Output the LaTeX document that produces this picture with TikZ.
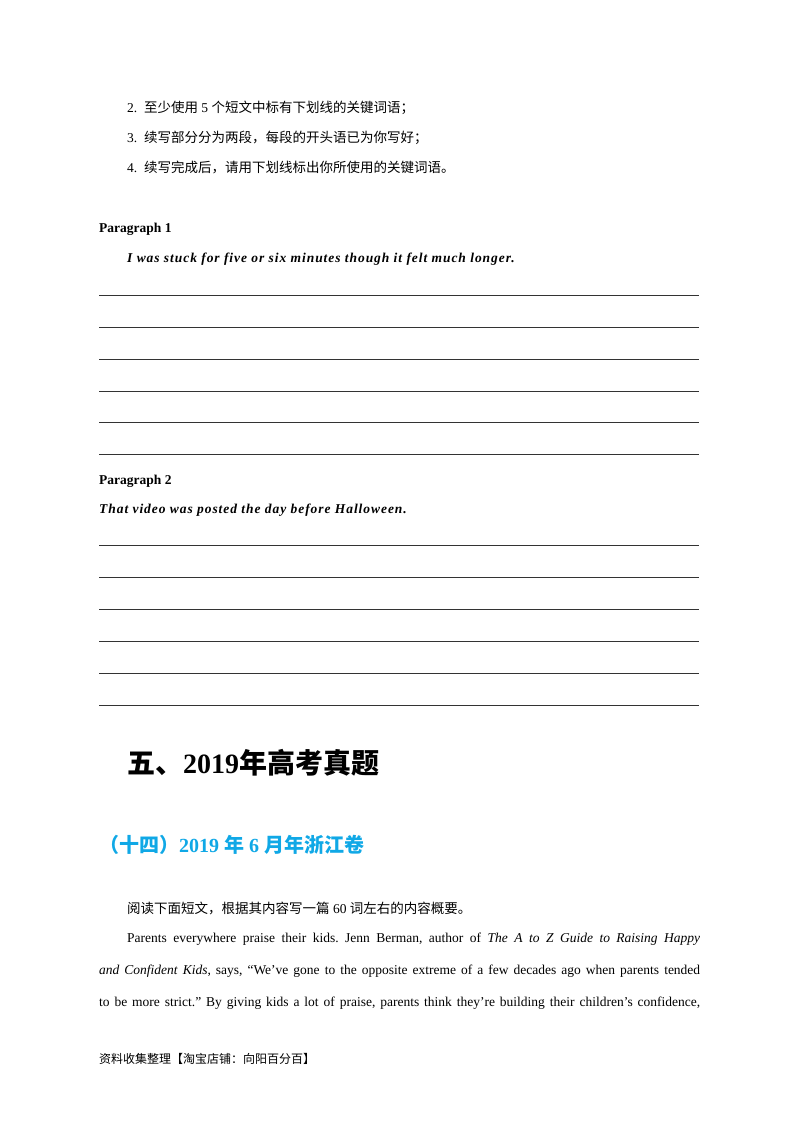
\documentclass[tikz,border=0pt]{standalone}
\usepackage{fontspec}
\setmainfont{Liberation Serif}
\newfontfamily\cjk{Noto Sans CJK SC}
\definecolor{hblue}{HTML}{10A8E6}
\frenchspacing
\begin{document}
\begin{tikzpicture}[x=1pt,y=-1pt,
  txt/.style={anchor=base west,inner sep=0pt,font=\fontsize{13.5}{16}\selectfont},
  rule/.style={line width=0.7pt,black!80}]
\useasboundingbox (0,0) rectangle (800,1132);
\node[txt] (l2) at (127,112) {2.\ \ {\cjk 至少使用} 5 {\cjk 个短文中标有下划线的关键词语；}};
\node[txt] (l3) at (127,142) {3.\ \ {\cjk 续写部分分为两段，每段的开头语已为你写好；}};
\node[txt] (l4) at (127,172) {4.\ \ {\cjk 续写完成后，请用下划线标出你所使用的关键词语。}};
\node[txt,font=\fontsize{13.5}{16}\selectfont\bfseries] (p1) at (99,232) {Paragraph 1};
\node[txt,font=\fontsize{13.5}{16}\selectfont\bfseries\itshape] (p1s) at (127,262) {\addfontfeature{LetterSpace=7}I was stuck for five or six minutes though it felt much longer.};
\foreach \y in {295,327,359,391,422,454} \draw[rule] (99,\y) -- (699,\y);
\node[txt,font=\fontsize{13.5}{16}\selectfont\bfseries] (p2) at (99,484) {Paragraph 2};
\node[txt,font=\fontsize{13.5}{16}\selectfont\bfseries\itshape] (p2s) at (99,513) {\addfontfeature{LetterSpace=7}That video was posted the day before Halloween.};
\foreach \y in {545,577,609,641,673,705} \draw[rule] (99,\y) -- (699,\y);
\node[txt,font=\fontsize{28}{32}\selectfont\bfseries] (h1) at (127,773) {{\cjk\bfseries 五、}2019{\cjk\bfseries 年高考真题}};
\node[txt,font=\fontsize{20}{24}\selectfont\bfseries,text=hblue] (h2) at (99,852) {{\cjk\bfseries （十四）}2019 {\cjk\bfseries 年} 6 {\cjk\bfseries 月年浙江卷}};
\node[txt] (r0) at (127,913) {{\cjk 阅读下面短文，根据其内容写一篇} 60 {\cjk 词左右的内容概要。}};
\node[txt] (r1) at (127,942) {\makebox[573pt][s]{Parents everywhere praise their kids. Jenn Berman, author of \textit{The A to Z Guide to Raising Happy}}};
\node[txt] (r2) at (99,974) {\makebox[601pt][s]{\textit{and Confident Kids}, says, ``We've gone to the opposite extreme of a few decades ago when parents tended}};
\node[txt] (r3) at (99,1006) {\makebox[601pt][s]{to be more strict.'' By giving kids a lot of praise, parents think they're building their children's confidence,}};
\node[txt,font=\fontsize{12}{14}\selectfont] (ft) at (99,1063) {\cjk 资料收集整理【淘宝店铺：向阳百分百】};
\end{tikzpicture}
\end{document}
